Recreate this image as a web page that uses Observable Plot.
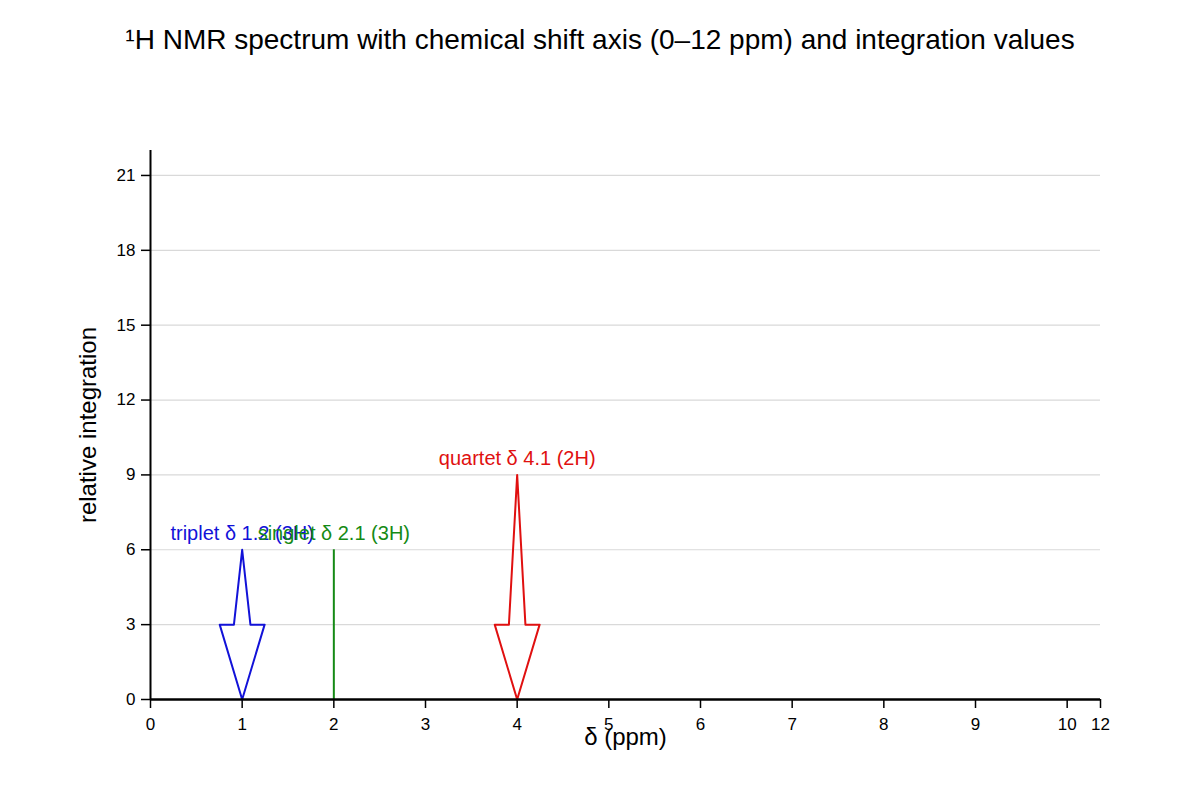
<!DOCTYPE html>
<html>
<head>
<meta charset="utf-8">
<script src="https://cdn.jsdelivr.net/npm/d3@7"></script>
<script src="https://cdn.jsdelivr.net/npm/@observablehq/plot@0.6"></script>
<style>
  body { margin: 0; background: #fff; font-family: "Liberation Sans", Arial, sans-serif; }
  #title { height: 80px; line-height: 80px; text-align: center; font-size: 28px; color: #000; }
</style>
</head>
<body>
<div id="title">¹H NMR spectrum with chemical shift axis (0–12 ppm) and integration values</div>
<div id="chart"></div>
<script>
// Peak data
const peakShift = [1, 2, 4];          // drawn position (ppm)
const peakHeight = [6, 6, 9];         // relative integration (drawn height)
const peakType = ["triplet", "singlet", "quartet"];
const peakLabel = ["triplet δ 1.2 (3H)", "singlet δ 2.1 (3H)", "quartet δ 4.1 (2H)"];
const peakColor = ["#1212d8", "#158a15", "#e01010"];
const headLevel = 3;                  // arrow head base level
// Axis ticks
const xTicks = [0, 1, 2, 3, 4, 5, 6, 7, 8, 9, 10, 12];
const yTicks = [0, 3, 6, 9, 12, 15, 18, 21];

const peaks = peakShift.map((x, i) => ({x, h: peakHeight[i], type: peakType[i], label: peakLabel[i], color: peakColor[i]}));

// hollow arrow outlines (triplet / quartet) and plain lines (singlet)
const headHalf = 0.245, shaftHalf = 0.09;
const arrowPts = [];
peaks.filter(p => p.type !== "singlet").forEach(p => {
  [[p.x, 0], [p.x + headHalf, headLevel], [p.x + shaftHalf, headLevel], [p.x, p.h],
   [p.x - shaftHalf, headLevel], [p.x - headHalf, headLevel], [p.x, 0]]
    .forEach(([x, y]) => arrowPts.push({x, y, id: p.label, color: p.color}));
});
const singlets = peaks.filter(p => p.type === "singlet");

const chart = Plot.plot({
  width: 1200,
  height: 720,
  marginTop: 70,
  marginBottom: 101,
  marginLeft: 150,
  marginRight: 100,
  style: {fontFamily: "Liberation Sans, Arial, sans-serif", fontSize: "17px", color: "#000", background: "#fff"},
  x: {type: "linear", domain: [0, 10, 12], range: [150, 1066.67, 1100]},
  y: {domain: [0, 22]},
  color: {type: "identity"},
  marks: [
    Plot.gridY(yTicks.slice(1), {stroke: "#d9d9d9", strokeOpacity: 1, strokeWidth: 1.2}),
    Plot.axisY(yTicks, {tickSize: 9, tickPadding: 6, label: null, fontSize: 17, stroke: "#000", strokeWidth: 1.5}),
    Plot.axisX(xTicks, {tickSize: 9, tickPadding: 9, label: null, fontSize: 17, stroke: "#000", strokeWidth: 1.5}),
    Plot.ruleX([0], {stroke: "#000", strokeWidth: 2}),
    Plot.ruleX(singlets, {x: "x", y1: 0, y2: "h", stroke: "color", strokeWidth: 2}),
    Plot.line(arrowPts, {x: "x", y: "y", z: "id", stroke: "color", strokeWidth: 2, curve: "linear"}),
    Plot.ruleY([0], {stroke: "#000", strokeWidth: 2.5}),
    Plot.text(peaks, {x: "x", y: "h", text: "label", fill: "color", dy: -16, fontSize: 20}),
    Plot.text(["relative integration"], {frameAnchor: "left", textAnchor: "middle", rotate: -90, dx: -62, fontSize: 24, fill: "#000"}),
    Plot.text(["δ (ppm)"], {frameAnchor: "bottom", dy: 45, fontSize: 24, fill: "#000"})
  ]
});
document.getElementById("chart").appendChild(chart);
</script>
</body>
</html>
